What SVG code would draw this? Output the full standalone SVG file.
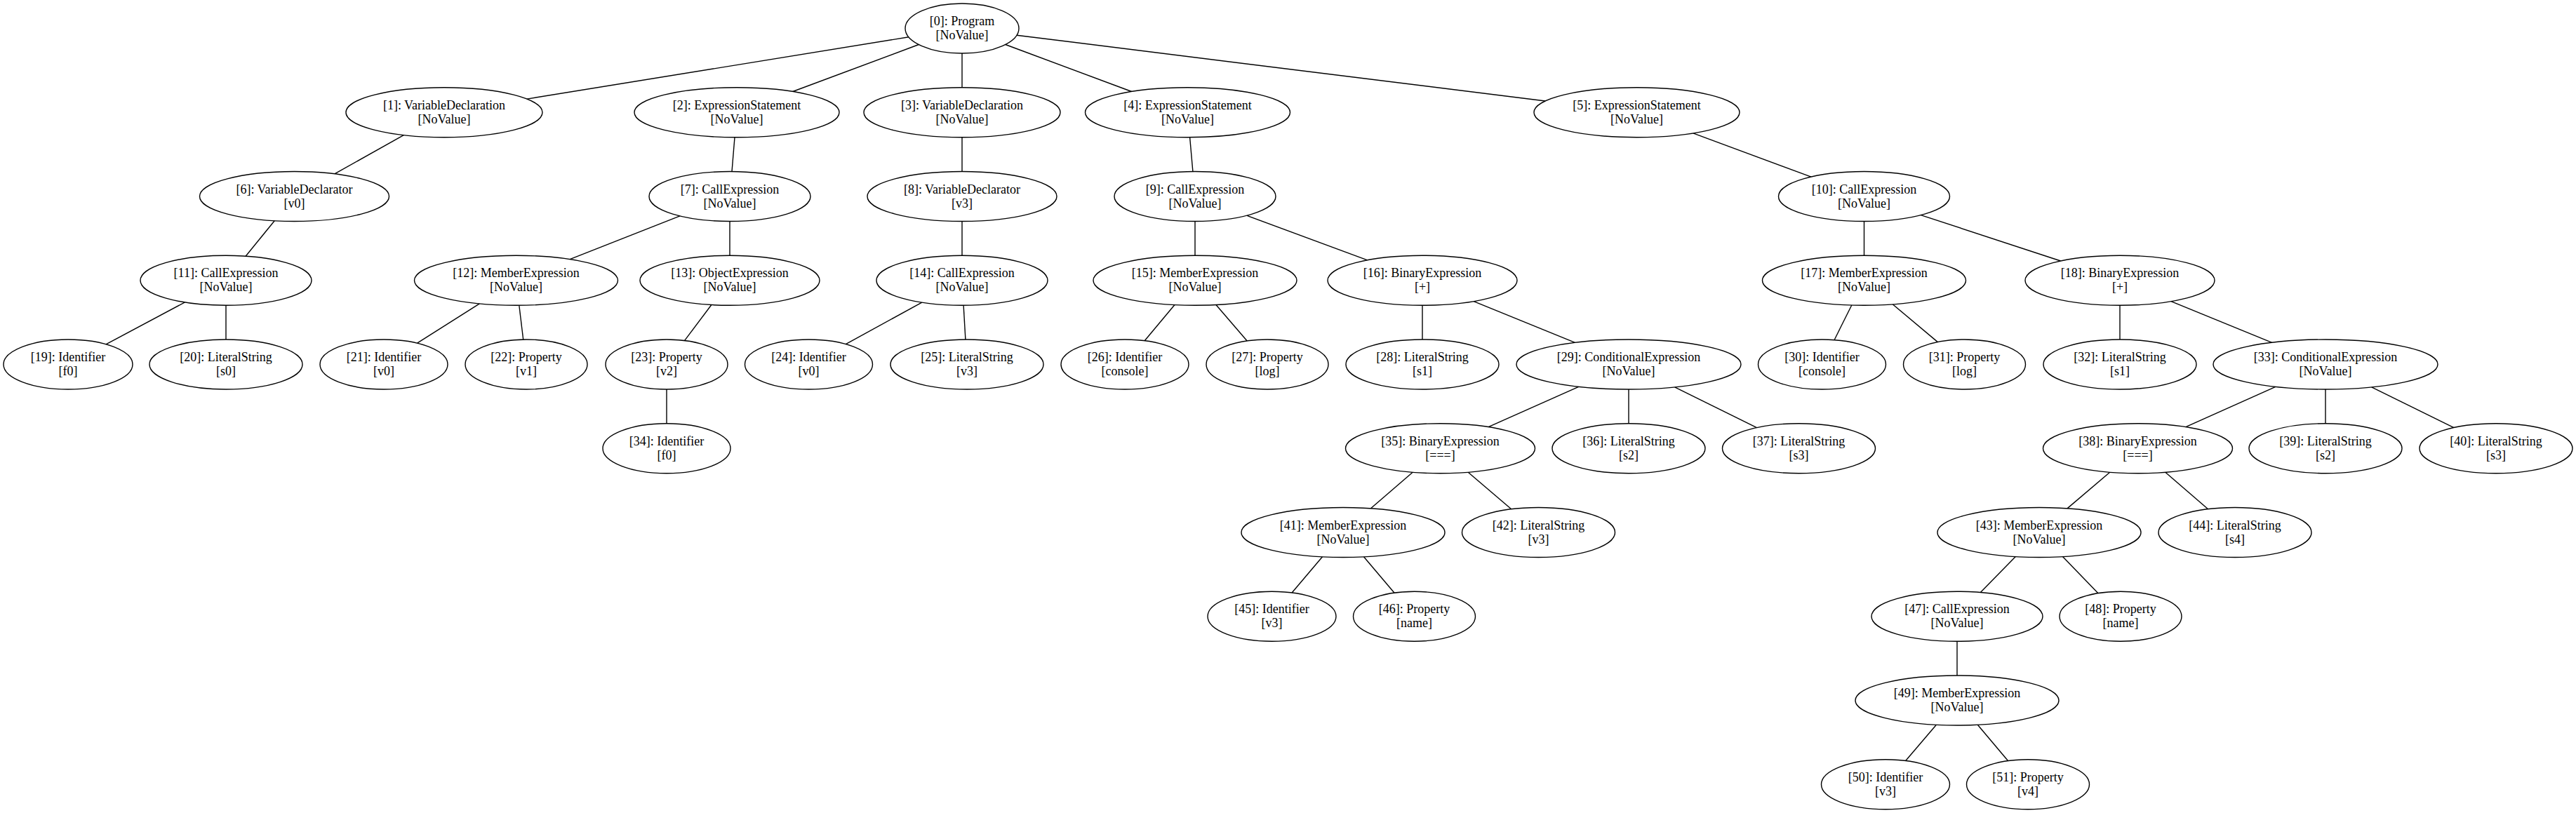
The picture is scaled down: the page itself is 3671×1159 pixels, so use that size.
<svg xmlns="http://www.w3.org/2000/svg" width="3671" height="1159" viewBox="0 0 3671 1159">
<style>
.n ellipse{fill:#fff;stroke:#000;stroke-width:1.4}
.n text{font-family:"Liberation Serif","Times New Roman",serif;font-size:18px;text-anchor:middle;fill:#000}
#edges line{stroke:#000;stroke-width:1.4}
</style>
<rect width="3671" height="1159" fill="#fff"/>
<g id="edges">
<line x1="1295.1" y1="52.8" x2="750.9" y2="141.1"/>
<line x1="1309.3" y1="63.5" x2="1129.7" y2="130.5"/>
<line x1="1371" y1="76" x2="1371" y2="124.75"/>
<line x1="1432.8" y1="63.5" x2="1612.6" y2="130.5"/>
<line x1="1448.9" y1="50.2" x2="2202.2" y2="144"/>
<line x1="575.3" y1="192.6" x2="476.8" y2="247.9"/>
<line x1="1047" y1="195.75" x2="1043" y2="244.5"/>
<line x1="1371" y1="195.75" x2="1371" y2="244.5"/>
<line x1="1695.6" y1="195.75" x2="1699.9" y2="244.5"/>
<line x1="2412.8" y1="189.95" x2="2581" y2="252.1"/>
<line x1="391.2" y1="314.7" x2="350.1" y2="365.2"/>
<line x1="969" y1="307.9" x2="812.1" y2="369.6"/>
<line x1="1040" y1="315.5" x2="1040" y2="364.25"/>
<line x1="1371" y1="315.5" x2="1371" y2="364.25"/>
<line x1="1703" y1="315.5" x2="1703" y2="364.25"/>
<line x1="1776.7" y1="307.2" x2="1948.7" y2="370.8"/>
<line x1="2656.5" y1="315.5" x2="2656.5" y2="364.25"/>
<line x1="2737.4" y1="306.6" x2="2936.6" y2="372"/>
<line x1="263.5" y1="430.9" x2="151" y2="490.8"/>
<line x1="322" y1="435.25" x2="322" y2="484"/>
<line x1="683.4" y1="432.9" x2="594.6" y2="489.2"/>
<line x1="739.8" y1="435.25" x2="745.7" y2="484"/>
<line x1="1013.9" y1="434.5" x2="975.5" y2="485.6"/>
<line x1="1313.8" y1="431.1" x2="1205.3" y2="490.6"/>
<line x1="1373.1" y1="435.25" x2="1375.9" y2="484"/>
<line x1="1674" y1="434.5" x2="1631.2" y2="485.7"/>
<line x1="1732.9" y1="434.5" x2="1777.2" y2="486"/>
<line x1="2027" y1="435.25" x2="2027" y2="484"/>
<line x1="2100.2" y1="429.6" x2="2244.5" y2="488.3"/>
<line x1="2638.8" y1="435" x2="2614" y2="484.7"/>
<line x1="2697.2" y1="433.8" x2="2761.4" y2="487.6"/>
<line x1="3021" y1="435.25" x2="3021" y2="484"/>
<line x1="3094" y1="429.6" x2="3237.7" y2="488.3"/>
<line x1="950" y1="555" x2="950" y2="603.75"/>
<line x1="2249.7" y1="551.3" x2="2121.1" y2="608.7"/>
<line x1="2321" y1="555" x2="2321" y2="603.75"/>
<line x1="2386.6" y1="551.9" x2="2503.5" y2="609.6"/>
<line x1="3242.9" y1="551.3" x2="3114.9" y2="608.6"/>
<line x1="3314" y1="555" x2="3314" y2="603.75"/>
<line x1="3379.7" y1="551.9" x2="3496.9" y2="609.6"/>
<line x1="2013.2" y1="673.2" x2="1953.5" y2="724.8"/>
<line x1="2092.2" y1="673.2" x2="2153.7" y2="725.8"/>
<line x1="3006.7" y1="673.2" x2="2946" y2="724.9"/>
<line x1="3085.8" y1="673.2" x2="3146.6" y2="725.8"/>
<line x1="1884.5" y1="793.8" x2="1841.1" y2="845"/>
<line x1="1943.5" y1="793.8" x2="1987.1" y2="845.2"/>
<line x1="2872.3" y1="793.5" x2="2822.4" y2="844.6"/>
<line x1="2939.5" y1="793.5" x2="2990" y2="845.7"/>
<line x1="2789" y1="914.25" x2="2789" y2="963"/>
<line x1="2759.4" y1="1033.3" x2="2715.7" y2="1084.5"/>
<line x1="2818.3" y1="1033.3" x2="2861.7" y2="1084.7"/>
</g>
<g id="node0" class="n"><ellipse cx="1371" cy="40.5" rx="81" ry="35.5"/><text x="1371" y="36">[0]: Program</text><text x="1371" y="56">[NoValue]</text></g>
<g id="node1" class="n"><ellipse cx="633" cy="160.25" rx="140" ry="35.5"/><text x="633" y="155.75">[1]: VariableDeclaration</text><text x="633" y="175.75">[NoValue]</text></g>
<g id="node2" class="n"><ellipse cx="1050" cy="160.25" rx="146" ry="35.5"/><text x="1050" y="155.75">[2]: ExpressionStatement</text><text x="1050" y="175.75">[NoValue]</text></g>
<g id="node3" class="n"><ellipse cx="1371" cy="160.25" rx="140" ry="35.5"/><text x="1371" y="155.75">[3]: VariableDeclaration</text><text x="1371" y="175.75">[NoValue]</text></g>
<g id="node4" class="n"><ellipse cx="1692.5" cy="160.25" rx="146" ry="35.5"/><text x="1692.5" y="155.75">[4]: ExpressionStatement</text><text x="1692.5" y="175.75">[NoValue]</text></g>
<g id="node5" class="n"><ellipse cx="2332.5" cy="160.25" rx="146.5" ry="35.5"/><text x="2332.5" y="155.75">[5]: ExpressionStatement</text><text x="2332.5" y="175.75">[NoValue]</text></g>
<g id="node6" class="n"><ellipse cx="419.5" cy="280" rx="135" ry="35.5"/><text x="419.5" y="275.5">[6]: VariableDeclarator</text><text x="419.5" y="295.5">[v0]</text></g>
<g id="node7" class="n"><ellipse cx="1040" cy="280" rx="115" ry="35.5"/><text x="1040" y="275.5">[7]: CallExpression</text><text x="1040" y="295.5">[NoValue]</text></g>
<g id="node8" class="n"><ellipse cx="1371" cy="280" rx="135" ry="35.5"/><text x="1371" y="275.5">[8]: VariableDeclarator</text><text x="1371" y="295.5">[v3]</text></g>
<g id="node9" class="n"><ellipse cx="1703" cy="280" rx="115" ry="35.5"/><text x="1703" y="275.5">[9]: CallExpression</text><text x="1703" y="295.5">[NoValue]</text></g>
<g id="node10" class="n"><ellipse cx="2656.5" cy="280" rx="122" ry="35.5"/><text x="2656.5" y="275.5">[10]: CallExpression</text><text x="2656.5" y="295.5">[NoValue]</text></g>
<g id="node11" class="n"><ellipse cx="322" cy="399.75" rx="122" ry="35.5"/><text x="322" y="395.25">[11]: CallExpression</text><text x="322" y="415.25">[NoValue]</text></g>
<g id="node12" class="n"><ellipse cx="735.5" cy="399.75" rx="145" ry="35.5"/><text x="735.5" y="395.25">[12]: MemberExpression</text><text x="735.5" y="415.25">[NoValue]</text></g>
<g id="node13" class="n"><ellipse cx="1040" cy="399.75" rx="128" ry="35.5"/><text x="1040" y="395.25">[13]: ObjectExpression</text><text x="1040" y="415.25">[NoValue]</text></g>
<g id="node14" class="n"><ellipse cx="1371" cy="399.75" rx="122" ry="35.5"/><text x="1371" y="395.25">[14]: CallExpression</text><text x="1371" y="415.25">[NoValue]</text></g>
<g id="node15" class="n"><ellipse cx="1703" cy="399.75" rx="145" ry="35.5"/><text x="1703" y="395.25">[15]: MemberExpression</text><text x="1703" y="415.25">[NoValue]</text></g>
<g id="node16" class="n"><ellipse cx="2027" cy="399.75" rx="135" ry="35.5"/><text x="2027" y="395.25">[16]: BinaryExpression</text><text x="2027" y="415.25">[+]</text></g>
<g id="node17" class="n"><ellipse cx="2656.5" cy="399.75" rx="145" ry="35.5"/><text x="2656.5" y="395.25">[17]: MemberExpression</text><text x="2656.5" y="415.25">[NoValue]</text></g>
<g id="node18" class="n"><ellipse cx="3021" cy="399.75" rx="135" ry="35.5"/><text x="3021" y="395.25">[18]: BinaryExpression</text><text x="3021" y="415.25">[+]</text></g>
<g id="node19" class="n"><ellipse cx="97" cy="519.5" rx="92" ry="35.5"/><text x="97" y="515">[19]: Identifier</text><text x="97" y="535">[f0]</text></g>
<g id="node20" class="n"><ellipse cx="322" cy="519.5" rx="109" ry="35.5"/><text x="322" y="515">[20]: LiteralString</text><text x="322" y="535">[s0]</text></g>
<g id="node21" class="n"><ellipse cx="547" cy="519.5" rx="91" ry="35.5"/><text x="547" y="515">[21]: Identifier</text><text x="547" y="535">[v0]</text></g>
<g id="node22" class="n"><ellipse cx="750" cy="519.5" rx="87" ry="35.5"/><text x="750" y="515">[22]: Property</text><text x="750" y="535">[v1]</text></g>
<g id="node23" class="n"><ellipse cx="950" cy="519.5" rx="87" ry="35.5"/><text x="950" y="515">[23]: Property</text><text x="950" y="535">[v2]</text></g>
<g id="node24" class="n"><ellipse cx="1152.5" cy="519.5" rx="91" ry="35.5"/><text x="1152.5" y="515">[24]: Identifier</text><text x="1152.5" y="535">[v0]</text></g>
<g id="node25" class="n"><ellipse cx="1378" cy="519.5" rx="109" ry="35.5"/><text x="1378" y="515">[25]: LiteralString</text><text x="1378" y="535">[v3]</text></g>
<g id="node26" class="n"><ellipse cx="1603" cy="519.5" rx="91" ry="35.5"/><text x="1603" y="515">[26]: Identifier</text><text x="1603" y="535">[console]</text></g>
<g id="node27" class="n"><ellipse cx="1806" cy="519.5" rx="87" ry="35.5"/><text x="1806" y="515">[27]: Property</text><text x="1806" y="535">[log]</text></g>
<g id="node28" class="n"><ellipse cx="2027" cy="519.5" rx="109" ry="35.5"/><text x="2027" y="515">[28]: LiteralString</text><text x="2027" y="535">[s1]</text></g>
<g id="node29" class="n"><ellipse cx="2321" cy="519.5" rx="160" ry="35.5"/><text x="2321" y="515">[29]: ConditionalExpression</text><text x="2321" y="535">[NoValue]</text></g>
<g id="node30" class="n"><ellipse cx="2596.5" cy="519.5" rx="91" ry="35.5"/><text x="2596.5" y="515">[30]: Identifier</text><text x="2596.5" y="535">[console]</text></g>
<g id="node31" class="n"><ellipse cx="2799.5" cy="519.5" rx="87" ry="35.5"/><text x="2799.5" y="515">[31]: Property</text><text x="2799.5" y="535">[log]</text></g>
<g id="node32" class="n"><ellipse cx="3021" cy="519.5" rx="109" ry="35.5"/><text x="3021" y="515">[32]: LiteralString</text><text x="3021" y="535">[s1]</text></g>
<g id="node33" class="n"><ellipse cx="3314" cy="519.5" rx="160" ry="35.5"/><text x="3314" y="515">[33]: ConditionalExpression</text><text x="3314" y="535">[NoValue]</text></g>
<g id="node34" class="n"><ellipse cx="950" cy="639.25" rx="91" ry="35.5"/><text x="950" y="634.75">[34]: Identifier</text><text x="950" y="654.75">[f0]</text></g>
<g id="node35" class="n"><ellipse cx="2052.5" cy="639.25" rx="135" ry="35.5"/><text x="2052.5" y="634.75">[35]: BinaryExpression</text><text x="2052.5" y="654.75">[===]</text></g>
<g id="node36" class="n"><ellipse cx="2321" cy="639.25" rx="109" ry="35.5"/><text x="2321" y="634.75">[36]: LiteralString</text><text x="2321" y="654.75">[s2]</text></g>
<g id="node37" class="n"><ellipse cx="2563.5" cy="639.25" rx="109" ry="35.5"/><text x="2563.5" y="634.75">[37]: LiteralString</text><text x="2563.5" y="654.75">[s3]</text></g>
<g id="node38" class="n"><ellipse cx="3046.5" cy="639.25" rx="135" ry="35.5"/><text x="3046.5" y="634.75">[38]: BinaryExpression</text><text x="3046.5" y="654.75">[===]</text></g>
<g id="node39" class="n"><ellipse cx="3314" cy="639.25" rx="109" ry="35.5"/><text x="3314" y="634.75">[39]: LiteralString</text><text x="3314" y="654.75">[s2]</text></g>
<g id="node40" class="n"><ellipse cx="3557" cy="639.25" rx="109" ry="35.5"/><text x="3557" y="634.75">[40]: LiteralString</text><text x="3557" y="654.75">[s3]</text></g>
<g id="node41" class="n"><ellipse cx="1914" cy="759" rx="145" ry="35.5"/><text x="1914" y="754.5">[41]: MemberExpression</text><text x="1914" y="774.5">[NoValue]</text></g>
<g id="node42" class="n"><ellipse cx="2192.5" cy="759" rx="109" ry="35.5"/><text x="2192.5" y="754.5">[42]: LiteralString</text><text x="2192.5" y="774.5">[v3]</text></g>
<g id="node43" class="n"><ellipse cx="2906" cy="759" rx="145" ry="35.5"/><text x="2906" y="754.5">[43]: MemberExpression</text><text x="2906" y="774.5">[NoValue]</text></g>
<g id="node44" class="n"><ellipse cx="3185" cy="759" rx="109" ry="35.5"/><text x="3185" y="754.5">[44]: LiteralString</text><text x="3185" y="774.5">[s4]</text></g>
<g id="node45" class="n"><ellipse cx="1812.5" cy="878.75" rx="91.5" ry="35.5"/><text x="1812.5" y="874.25">[45]: Identifier</text><text x="1812.5" y="894.25">[v3]</text></g>
<g id="node46" class="n"><ellipse cx="2015.5" cy="878.75" rx="87" ry="35.5"/><text x="2015.5" y="874.25">[46]: Property</text><text x="2015.5" y="894.25">[name]</text></g>
<g id="node47" class="n"><ellipse cx="2789" cy="878.75" rx="122" ry="35.5"/><text x="2789" y="874.25">[47]: CallExpression</text><text x="2789" y="894.25">[NoValue]</text></g>
<g id="node48" class="n"><ellipse cx="3022" cy="878.75" rx="87" ry="35.5"/><text x="3022" y="874.25">[48]: Property</text><text x="3022" y="894.25">[name]</text></g>
<g id="node49" class="n"><ellipse cx="2789" cy="998.5" rx="145" ry="35.5"/><text x="2789" y="994">[49]: MemberExpression</text><text x="2789" y="1014">[NoValue]</text></g>
<g id="node50" class="n"><ellipse cx="2687" cy="1118.25" rx="91.5" ry="35.5"/><text x="2687" y="1113.75">[50]: Identifier</text><text x="2687" y="1133.75">[v3]</text></g>
<g id="node51" class="n"><ellipse cx="2890" cy="1118.25" rx="87.5" ry="35.5"/><text x="2890" y="1113.75">[51]: Property</text><text x="2890" y="1133.75">[v4]</text></g>
</svg>
